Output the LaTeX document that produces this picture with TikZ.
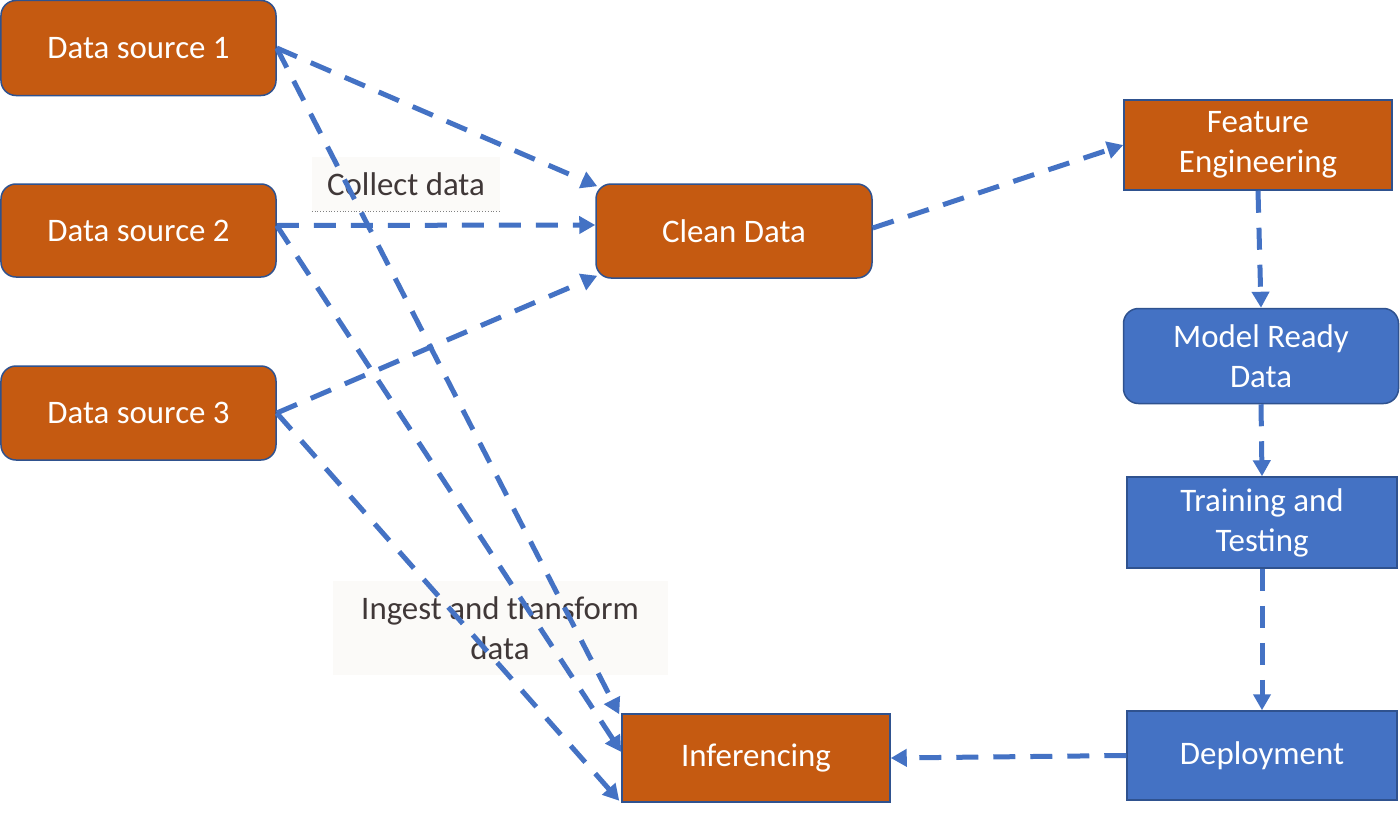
\documentclass[tikz,border=0pt]{standalone}
\usepackage{fontspec}
\setmainfont{Carlito}
\usetikzlibrary{arrows.meta}
\definecolor{orng}{HTML}{C55A11}
\definecolor{blu}{HTML}{4472C4}
\definecolor{edgec}{HTML}{2F528F}
\definecolor{lbl}{HTML}{403838}
\definecolor{lblbg}{HTML}{FBFAF8}
\begin{document}
\begin{tikzpicture}[x=1bp,y=-1bp,
  base/.style={draw=edgec,line width=1.5bp,text=white,font=\fontsize{33}{40}\selectfont,align=center,inner sep=0pt},
  obox/.style={base,fill=orng,rounded corners=15bp},
  osq/.style={base,fill=orng},
  bbox/.style={base,fill=blu,rounded corners=15bp},
  bsq/.style={base,fill=blu},
  lab/.style={fill=lblbg,text=lbl,font=\fontsize{33}{40}\selectfont,align=center,inner sep=0pt},
  flow/.style={draw=blu,line width=5bp,dash pattern=on 22bp off 15bp,-{Triangle[length=16bp,width=17bp]}}]
\useasboundingbox (0,0) rectangle (1400,820);
\fill[white] (0,0) rectangle (1400,820);
% labels (under the connectors)
\node[lab,minimum width=188bp,minimum height=54bp] (collect) at (406,184) {Collect data};
\draw[gray,dotted,line width=0.8bp] (collect.south west) -- (collect.south east);
\node[lab,minimum width=335bp,minimum height=94bp] (ingest) at (500,628) {Ingest and transform\\data};
% nodes
\node[obox,minimum width=275bp,minimum height=95bp] (ds1) at (138.5,48) {Data source 1};
\node[obox,minimum width=275bp,minimum height=93bp] (ds2) at (138.5,230.5) {Data source 2};
\node[obox,minimum width=275bp,minimum height=94bp] (ds3) at (138.5,413) {Data source 3};
\node[obox,minimum width=276bp,minimum height=94bp] (clean) at (734,231) {Clean Data};
\node[osq,minimum width=268bp,minimum height=90bp] (feat) at (1258,145) {\raisebox{-3bp}{Feature}\\\raisebox{-3bp}{Engineering}};
\node[bbox,minimum width=275bp,minimum height=95bp] (model) at (1261,356) {Model Ready\\Data};
\node[bsq,minimum width=270bp,minimum height=91bp] (train) at (1262,522.5) {\raisebox{-2bp}{Training and}\\\raisebox{-2bp}{Testing}};
\node[bsq,minimum width=270bp,minimum height=89bp] (deploy) at (1262,755.5) {Deployment};
\node[osq,minimum width=268bp,minimum height=88bp] (inf) at (756,758) {Inferencing};
% connectors
\draw[flow] (ds1.east) -- ([shift={(2bp,-3bp)}]clean.north west);
\draw[flow] (ds1.east) -- ([shift={(-2bp,-1bp)}]inf.north west);
\draw[flow] ([yshift=5bp]ds2.east) -- ([yshift=6bp]clean.west);
\draw[flow] ([yshift=5bp]ds2.east) -- ([yshift=6bp]inf.west);
\draw[flow] (ds3.east) -- ([shift={(2bp,3bp)}]clean.south west);
\draw[flow] (ds3.east) -- ([shift={(-2bp,2bp)}]inf.south west);
\draw[flow] ([yshift=3bp]clean.east) -- (feat.west);
\draw[flow] (feat.south) -- (model.north);
\draw[flow] (model.south) -- (train.north);
\draw[flow] (train.south) -- (deploy.north);
\draw[flow] (deploy.west) -- (inf.east);
\end{tikzpicture}
\end{document}
